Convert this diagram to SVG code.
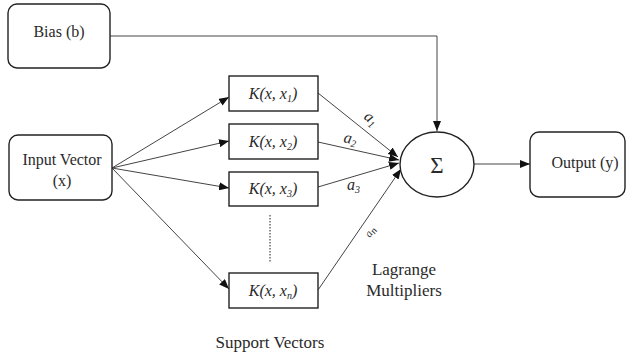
<svg xmlns="http://www.w3.org/2000/svg" width="627" height="358" viewBox="0 0 627 358">
  <style>
    .box { fill: #fff; stroke: #222; stroke-width: 1.4; }
    .lbl { font-family: 'Liberation Serif', Tinos, 'DejaVu Serif', serif; font-size: 16px; fill: #2a2a2a; text-anchor: middle; }
    .free { font-size: 17px; }
    .k { font-style: italic; }
    .w { font-family: 'Liberation Serif', Tinos, 'DejaVu Serif', serif; font-style: italic; font-size: 16px; fill: #2a2a2a; }
    .sub { font-size: 10px; }
    .edge { fill: none; stroke: #444; stroke-width: 1; }
    .dots { fill: none; stroke: #444; stroke-width: 1.2; stroke-dasharray: 1.5 1.5; }
  </style>
  <defs>
    <marker id="arrow" viewBox="0 0 10 8" refX="10" refY="4" markerWidth="10" markerHeight="8" markerUnits="userSpaceOnUse" orient="auto">
      <path d="M0,0 L10,4 L0,8 Z" fill="#111"/>
    </marker>
  </defs>

  <!-- connectors -->
  <g id="edges">
    <path class="edge" d="M110,36 H437 V131" marker-end="url(#arrow)"/>
    <path class="edge" d="M112,168 L229,97" marker-end="url(#arrow)"/>
    <path class="edge" d="M112,168 L229,141" marker-end="url(#arrow)"/>
    <path class="edge" d="M112,168 L229,188" marker-end="url(#arrow)"/>
    <path class="edge" d="M112,168 L229,289" marker-end="url(#arrow)"/>
    <path class="edge" d="M318,93 L398,157" marker-end="url(#arrow)"/>
    <path class="edge" d="M318,142 L399,160" marker-end="url(#arrow)"/>
    <path class="edge" d="M318,187 L399,163" marker-end="url(#arrow)"/>
    <path class="edge" d="M318,290 L401,169" marker-end="url(#arrow)"/>
    <path class="edge" d="M474,164 L530,164" marker-end="url(#arrow)"/>
    <path class="dots" d="M270,215 V263"/>
  </g>

  <!-- weight labels on the kernel connectors -->
  <g id="weights">
    <text class="w" transform="translate(363,118) rotate(39.5)">a<tspan class="sub" dy="3">1</tspan></text>
    <text class="w" transform="translate(343,142) rotate(12)">a<tspan class="sub" dy="3">2</tspan></text>
    <text class="w" x="347" y="190">a<tspan class="sub" dy="3">3</tspan></text>
    <text class="w" style="font-size:11px" transform="translate(370,238) rotate(-56)">a<tspan class="sub" dy="2">n</tspan></text>
  </g>

  <g id="bias">
    <rect class="box" x="8" y="4" width="102" height="64" rx="9"/>
    <text class="lbl" x="59" y="37">Bias (b)</text>
  </g>

  <g id="input">
    <rect class="box" x="9" y="135" width="103" height="65" rx="9"/>
    <text class="lbl" x="62" y="165">Input Vector</text>
    <text class="lbl" x="62" y="186">(x)</text>
  </g>

  <g id="k1">
    <rect class="box" x="229" y="76" width="89" height="35"/>
    <text class="lbl k" x="273" y="99">K(x, x<tspan class="sub" dy="3">1</tspan><tspan dy="-3">)</tspan></text>
  </g>
  <g id="k2">
    <rect class="box" x="229" y="124" width="89" height="35"/>
    <text class="lbl k" x="273" y="147">K(x, x<tspan class="sub" dy="3">2</tspan><tspan dy="-3">)</tspan></text>
  </g>
  <g id="k3">
    <rect class="box" x="229" y="172" width="89" height="34"/>
    <text class="lbl k" x="273" y="194">K(x, x<tspan class="sub" dy="3">3</tspan><tspan dy="-3">)</tspan></text>
  </g>
  <g id="kn">
    <rect class="box" x="229" y="273" width="89" height="35"/>
    <text class="lbl k" x="273" y="296">K(x, x<tspan class="sub" dy="3">n</tspan><tspan dy="-3">)</tspan></text>
  </g>

  <g id="sum">
    <ellipse class="box" cx="437" cy="164.5" rx="37" ry="32.5"/>
    <text class="lbl" style="font-size:23px" x="437" y="173">Σ</text>
  </g>

  <g id="output">
    <rect class="box" x="530" y="132" width="95" height="65" rx="9"/>
    <text class="lbl" x="585" y="168">Output (y)</text>
  </g>

  <g id="captions">
    <text class="lbl free" x="404" y="275">Lagrange</text>
    <text class="lbl free" x="404" y="296">Multipliers</text>
    <text class="lbl free" x="270" y="348">Support Vectors</text>
  </g>
</svg>
